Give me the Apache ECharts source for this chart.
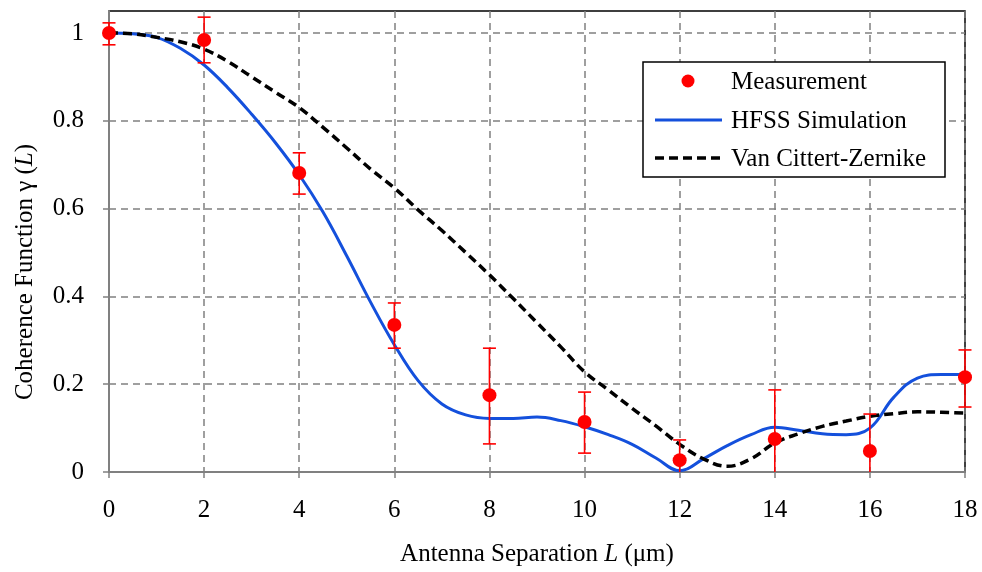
<!DOCTYPE html>
<html>
<head>
<meta charset="utf-8">
<script src="https://cdn.jsdelivr.net/npm/echarts@6/dist/echarts.min.js"></script>
<style>html,body{margin:0;padding:0;background:#fff}#c{width:982px;height:572px}</style>
</head>
<body>
<div id="c"></div>
<script>
// Measurement data
var measL    = [0, 2, 4, 6, 8, 10, 12, 14, 16, 18];
var measY    = [1.0, 0.984, 0.681, 0.335, 0.175, 0.114, 0.027, 0.075, 0.048, 0.216];
var measHigh = [1.023, 1.036, 0.727, 0.385, 0.282, 0.182, 0.073, 0.187, 0.132, 0.278];
var measLow  = [0.973, 0.932, 0.633, 0.282, 0.064, 0.043, -0.02, -0.04, -0.04, 0.148];

// HFSS simulation curve
var simL = [0,0.5,1,1.5,2,2.5,3,3.5,4,4.5,5,5.5,6,6.5,7,7.5,8,8.5,9,9.5,10,10.5,11,11.5,12,12.5,13,13.5,14,14.5,15,15.5,16,16.5,17,17.5,18];
var simY = [1.0,0.998,0.99,0.965,0.927,0.875,0.815,0.75,0.677,0.592,0.492,0.387,0.29,0.208,0.155,0.13,0.122,0.122,0.125,0.117,0.103,0.085,0.063,0.032,0.003,0.03,0.06,0.085,0.102,0.095,0.087,0.085,0.1,0.17,0.214,0.222,0.222];

// Van Cittert-Zernike curve
var vczL = [0,0.5,1,1.5,2,2.5,3,3.5,4,4.5,5,5.5,6,6.5,7,7.5,8,8.5,9,9.5,10,10.5,11,11.5,12,12.5,13,13.5,14,14.5,15,15.5,16,16.5,17,17.5,18];
var vczY = [1.0,0.998,0.99,0.98,0.963,0.935,0.9,0.865,0.83,0.785,0.738,0.69,0.647,0.597,0.55,0.5,0.449,0.395,0.34,0.285,0.228,0.187,0.145,0.105,0.063,0.03,0.013,0.03,0.066,0.087,0.104,0.116,0.127,0.133,0.137,0.136,0.134];

var yTicks = [0, 0.2, 0.4, 0.6, 0.8, 1];
var legendNames = ['Measurement', 'HFSS Simulation', 'Van Cittert-Zernike'];
var xTitle = 'Antenna Separation {i|L} (μm)';
var yTitle = '{n|Coherence Function γ (}{i|L}{n|)}';

function pairs(a, b) { return a.map(function (v, i) { return [v, b[i]]; }); }

var FONT = 'Liberation Serif';
var RED = '#ff0000', BLUE = '#1450dc';
var txt = function (s, y) {
  return { type: 'text', x: 731, y: y, z: 101, style: { text: s, fontFamily: FONT, fontSize: 25, fill: '#000', align: 'left', verticalAlign: 'middle' } };
};
var chart = echarts.init(document.getElementById('c'));
chart.setOption({
  animation: false,
  backgroundColor: '#fff',
  grid: { left: 109, right: 17, top: 11, bottom: 100, show: true, borderColor: '#000', borderWidth: 1.5, backgroundColor: 'transparent' },
  xAxis: {
    type: 'value', min: 0, max: 18, interval: 2,
    name: xTitle, nameLocation: 'middle', nameGap: 70,
    nameTextStyle: { fontFamily: FONT, fontSize: 25, color: '#000', rich: { i: { fontFamily: FONT, fontSize: 25, fontStyle: 'italic', color: '#000' } } },
    axisLine: { lineStyle: { color: '#808080', width: 2 } },
    axisTick: { show: true, length: 6, lineStyle: { color: '#808080', width: 1.5 } },
    axisLabel: { fontFamily: FONT, fontSize: 25, color: '#000', margin: 26 },
    splitLine: { show: true, lineStyle: { color: '#808080', width: 1.5, type: [7, 5] } }
  },
  yAxis: {
    type: 'value', min: 0, max: 1.05, interval: 0.2,
    axisLine: { show: true, lineStyle: { color: '#808080', width: 2 } },
    axisTick: { show: true, length: 6, customValues: yTicks, lineStyle: { color: '#808080', width: 1.5 } },
    axisLabel: { fontFamily: FONT, fontSize: 25, color: '#000', margin: 25, customValues: yTicks,
      formatter: function (v) { return String(Math.round(v * 10) / 10); } },
    splitLine: { show: true, lineStyle: { color: '#808080', width: 1.5, type: [7, 5] } }
  },
  graphic: [
    {
      type: 'text', x: 25, y: 272, rotation: Math.PI / 2,
      style: {
        text: yTitle, align: 'center', verticalAlign: 'middle',
        rich: {
          n: { fontFamily: FONT, fontSize: 25, fill: '#000' },
          i: { fontFamily: FONT, fontSize: 25, fontStyle: 'italic', fill: '#000' }
        }
      }
    },
    { type: 'rect', z: 100, shape: { x: 643, y: 62, width: 302, height: 115 }, style: { fill: '#fff', stroke: '#000', lineWidth: 1.5 } },
    { type: 'circle', z: 101, shape: { cx: 688, cy: 81, r: 6.5 }, style: { fill: RED } },
    { type: 'line', z: 101, shape: { x1: 655, y1: 120, x2: 722, y2: 120 }, style: { stroke: BLUE, lineWidth: 3 } },
    { type: 'line', z: 101, shape: { x1: 655, y1: 158, x2: 722, y2: 158 }, style: { stroke: '#000', lineWidth: 3.5, lineDash: [9, 5] } },
    txt(legendNames[0], 82.5), txt(legendNames[1], 121.5), txt(legendNames[2], 159.5)
  ],
  series: [
    {
      name: legendNames[1], type: 'line', data: pairs(simL, simY),
      smooth: 0.4, showSymbol: false, symbol: 'none', z: 2,
      lineStyle: { color: BLUE, width: 3 }, itemStyle: { color: BLUE }
    },
    {
      name: legendNames[2], type: 'line', data: pairs(vczL, vczY),
      smooth: 0.4, showSymbol: false, symbol: 'none', z: 3,
      lineStyle: { color: '#000', width: 3.5, type: [9, 5] }, itemStyle: { color: '#000' }
    },
    {
      name: 'errbars', type: 'custom', z: 4, clip: false,
      data: measL.map(function (l, i) { return [l, measLow[i], measHigh[i]]; }),
      renderItem: function (params, api) {
        var cs = params.coordSys;
        var bottom = cs.y + cs.height;
        var lo = api.coord([api.value(0), api.value(1)]);
        var hi = api.coord([api.value(0), api.value(2)]);
        var x = lo[0];
        var yLo = Math.min(lo[1], bottom);
        var st = { stroke: RED, lineWidth: 1.6 };
        var ch = [
          { type: 'line', shape: { x1: x, y1: hi[1], x2: x, y2: yLo }, style: st },
          { type: 'line', shape: { x1: x - 6.5, y1: hi[1], x2: x + 6.5, y2: hi[1] }, style: st }
        ];
        if (lo[1] <= bottom) ch.push({ type: 'line', shape: { x1: x - 6.5, y1: lo[1], x2: x + 6.5, y2: lo[1] }, style: st });
        return { type: 'group', children: ch };
      }
    },
    {
      name: legendNames[0], type: 'scatter', data: pairs(measL, measY), z: 5,
      symbol: 'circle', symbolSize: 14, clip: false,
      itemStyle: { color: RED, opacity: 1 }
    }
  ]
});
</script>
</body>
</html>
